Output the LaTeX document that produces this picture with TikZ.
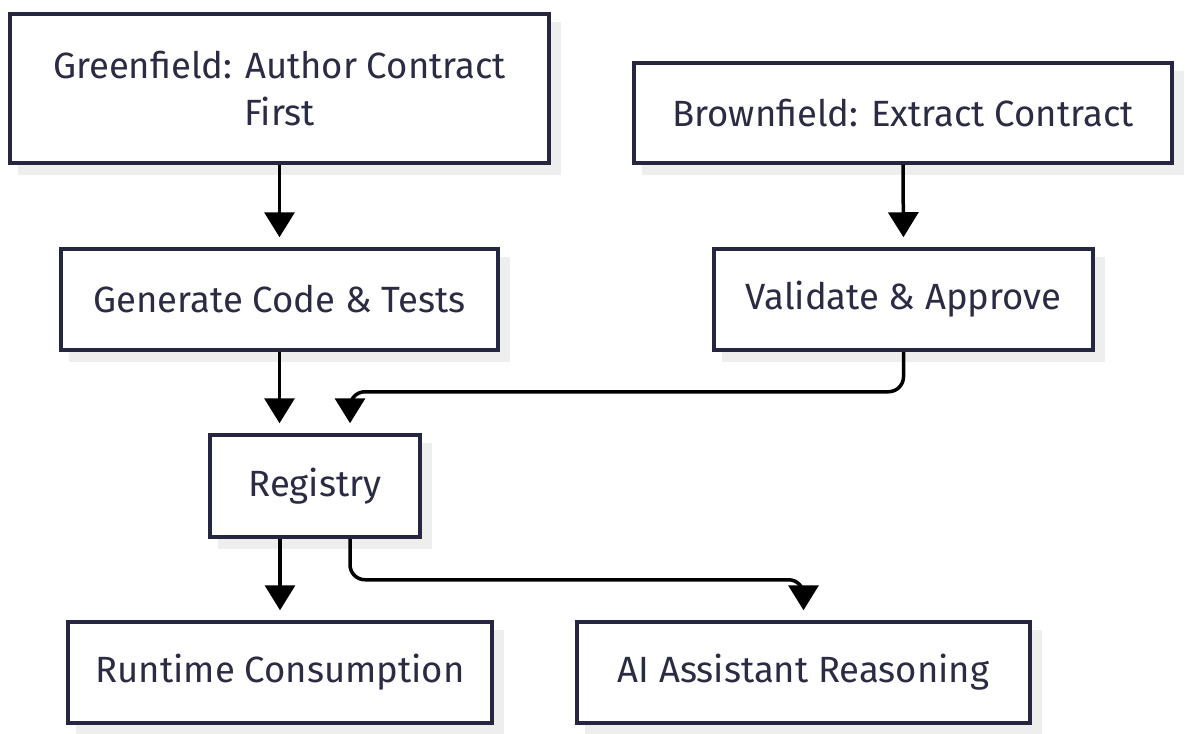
\documentclass[tikz,border=0pt]{standalone}
\usepackage{fontspec}
\setmainfont{Fira Sans}
\usetikzlibrary{arrows.meta,calc}
\definecolor{bord}{HTML}{262640}
\definecolor{txt}{HTML}{2B2B44}
\definecolor{shad}{HTML}{EEEEEE}
\tikzset{
  box/.style={draw=bord, line width=3.5pt, fill=white, text=txt, align=center,
    inner sep=0pt, font=\fontsize{36.5}{47}\selectfont},
  conn/.style={line width=3.5pt, black, rounded corners=15pt,
    -{Triangle[width=30pt,length=25pt]}, shorten >=10pt},
  shadowfill/.style={fill=shad},
}
\begin{document}
\begin{tikzpicture}[x=1pt,y=-1pt]
\useasboundingbox (0,0) rectangle (1185,733);
\foreach \xa/\ya/\xb/\yb in {8/12/551/165, 632/61/1174/165, 59/247/500/352, 712/247/1095/352, 208/433/422/539, 66/620/494/725, 575/620/1032/725}{
  \fill[shadowfill] (\xa+10,\ya+10) rectangle (\xb+10,\yb+10);
}
\node[box, minimum width=539pt, minimum height=149pt] (g) at (279.5,88.5) {Greenfield: Author Contract\\First};
\node[box, minimum width=538pt, minimum height=100pt] (b) at (903,113) {Brownfield: Extract Contract};
\node[box, minimum width=437pt, minimum height=101pt] (gen) at (279.5,299.5) {Generate Code \& Tests};
\node[box, minimum width=379pt, minimum height=101pt] (val) at (903.5,299.5) {Validate \& Approve};
\node[box, minimum width=210pt, minimum height=102pt] (reg) at (315,486) {Registry};
\node[box, minimum width=424pt, minimum height=101pt] (run) at (280,672.5) {Runtime Consumption};
\node[box, minimum width=453pt, minimum height=101pt] (ai) at (803.5,672.5) {AI Assistant Reasoning};
\coordinate (rin) at ($(reg.north)+(35,0)$);
\coordinate (rl) at ($(reg.south)+(-35,0)$);
\coordinate (rr) at ($(reg.south)+(35,0)$);
\draw[conn] (g.south) -- (gen.north);
\draw[conn] (b.south) -- (val.north);
\draw[conn] (gen.south) -- (gen.south |- reg.north);
\draw[conn] (val.south) -- ++(0,40) -| (rin);
\draw[conn] (rl) -- (rl |- run.north);
\draw[conn] (rr) -- ++(0,41) -| (ai.north);
\end{tikzpicture}
\end{document}
